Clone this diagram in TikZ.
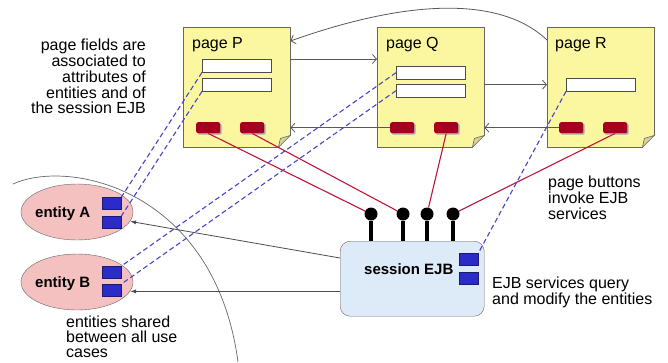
\documentclass[tikz,border=0pt]{standalone}
\usepackage{fontspec}
\setmainfont{Liberation Sans}
\usepackage{tikz}
\usetikzlibrary{calc,positioning,arrows.meta,shapes.geometric,shadows}

\definecolor{pageyellow}{HTML}{FBF7A0}
\definecolor{foldtan}{HTML}{D8D39B}
\definecolor{btnred}{HTML}{A50021}
\definecolor{linkred}{HTML}{C0143C}
\definecolor{entitypink}{HTML}{F4C0C0}
\definecolor{ejbblue}{HTML}{DDEBF8}
\definecolor{attrblue}{HTML}{2B2BC8}
\definecolor{attrline}{HTML}{1A1A70}
\definecolor{dashblue}{HTML}{4646C8}

\tikzset{
  page/.style={draw=black!60, fill=pageyellow, minimum width=107pt, minimum height=120pt, anchor=north west, inner sep=0pt},
  field/.style={draw=black!70, fill=white, minimum width=69pt, minimum height=13pt, anchor=north west, inner sep=0pt},
  button/.style={fill=btnred, rounded corners=2pt, minimum width=24pt, minimum height=11pt, anchor=north west, inner sep=0pt,
    drop shadow={shadow xshift=1.5pt, shadow yshift=-1.5pt, fill=black!35, opacity=1}},
  attr/.style={draw=attrline, fill=attrblue, minimum width=19pt, minimum height=12pt, anchor=north west, inner sep=0pt},
  entity/.style={ellipse, draw=black!60, fill=entitypink, minimum width=112pt, minimum height=56pt, inner sep=0pt},
  plug/.style={circle, fill=black, minimum size=13pt, inner sep=0pt},
  nav/.style={draw=black!65, line width=0.8pt, -{Straight Barb[length=4pt,width=9pt]}},
  query/.style={draw=black!70, line width=0.8pt, -{Latex[length=6pt,width=4pt]}},
  assoc/.style={draw=dashblue, line width=1.1pt, dash pattern=on 5pt off 3pt},
  invoke/.style={draw=linkred, line width=1.1pt},
  note/.style={font=\fontsize{16}{15.75}\selectfont, inner sep=0pt},
  bold/.style={font=\bfseries\fontsize{15}{15}\selectfont, inner sep=0pt, anchor=base west},
}

\begin{document}
\begin{tikzpicture}[x=1pt, y=-1pt]
  %\draw[color=gray,step=10pt, help lines,opacity=0.3] (0,0) grid (668,362); %help grids
  \useasboundingbox (0,0) rectangle (668,362);

  % use case boundary
  \draw[black!60, line width=0.7pt] (13,184) .. controls (70,158) and (215,190) .. (238,362);

  % pages
  \node[page] (P) at (183,27) {};
  \node[page] (Q) at (377,27) {};
  \node[page] (R) at (547,27) {};
  \foreach \p in {P,Q,R} {
    \fill[white] ($(\p.south east)+(-12,0.7)$) -- ($(\p.south east)+(0.7,0.7)$) -- ($(\p.south east)+(0.7,-12)$) -- cycle;
    \filldraw[fill=foldtan, draw=black!60, line width=0.6pt] ($(\p.south east)+(-12,0)$) -- ($(\p.south east)+(0,-12)$) -- ($(\p.south east)+(-10,-9)$) -- cycle;
  }
  \node[note, anchor=base west] (Pname) at (192,48) {page P};
  \node[note, anchor=base west] (Qname) at (386,48) {page Q};
  \node[note, anchor=base west] (Rname) at (555,48) {page R};

  % fields and buttons
  \node[field] (pf1) at (202,59) {};
  \node[field] (pf2) at (202,78) {};
  \node[field] (qf1) at (396,66) {};
  \node[field] (qf2) at (396,84) {};
  \node[field] (rf) at (566,78) {};
  \node[button] (pb1) at (196,122) {};
  \node[button] (pb2) at (240,122) {};
  \node[button] (qb1) at (390,122) {};
  \node[button] (qb2) at (434,122) {};
  \node[button] (rb1) at (559,122) {};
  \node[button] (rb2) at (603,122) {};

  % entities
  \node[entity] (eA) at (77,212) {};
  \node[entity] (eB) at (77,282) {};
  \node[bold] (eAname) at (35,217) {entity A};
  \node[bold] (eBname) at (35,287) {entity B};
  \node[attr] (aA1) at (102,197) {};
  \node[attr] (aA2) at (102,216) {};
  \node[attr] (aB1) at (102,266) {};
  \node[attr] (aB2) at (102,284) {};

  % session bean with its services
  \node[draw=black!60, fill=ejbblue, rounded corners=10pt, minimum width=144pt, minimum height=75pt, anchor=north west] (S) at (340,241) {};
  \node[bold] (Sname) at (364,274) {session EJB};
  \node[attr] (sa1) at (459,253) {};
  \node[attr] (sa2) at (459,272) {};
  \node[plug] (l1) at (371,214) {};
  \node[plug] (l2) at (403,214) {};
  \node[plug] (l3) at (427,214) {};
  \node[plug] (l4) at (453,214) {};
  \foreach \l in {l1,l2,l3,l4}
    \draw[line width=4.5pt] (\l) -- (\l |- S.north);

  % navigation
  \draw[nav] (pf1.north -| P.east) -- (pf1.north -| Q.west);
  \draw[nav] (rf -| Q.east) -- (rf -| R.west);
  \draw[nav] (rb1.west) -- (rb1 -| Q.east);
  \draw[nav] (qb1.west) -- (qb1 -| P.east);
  \draw[nav] ($(R.north west)+(0,13)$) .. controls (505,0) and (420,-5) .. ($(P.north east)+(0,14)$);

  % buttons call services
  \draw[invoke] (pb1.south) -- (l1);
  \draw[invoke] (pb2.south) -- (l2);
  \draw[invoke] (qb2.south) -- (l3);
  \draw[invoke] (rb2.south) -- (l4);

  % fields bound to attributes
  \draw[assoc] (pf1.south west) -- (aA1.north east);
  \draw[assoc] (pf2.south west) -- (aA2.north east);
  \draw[assoc] (qf1.west) -- (aB1.north east);
  \draw[assoc] (qf2.west) -- (aB2.north east);
  \draw[assoc] (rf.south west) -- (sa1.north east);

  % services use entities
  \draw[query] ([yshift=-17pt]S.north west) -- (eA.-10);
  \draw[query] (eB.-10 -| S.west) -- (eB.-10);

  % notes
  \node[note, align=right, anchor=north east] (fieldnote) at (146,39) {page fields are\\associated to\\attributes of\\entities and of\\the session EJB};
  \node[note, align=left, anchor=north west] (btnnote) at (548,176) {page buttons\\invoke EJB\\services};
  \node[note, align=left, anchor=north west] (querynote) at (492,277) {EJB services query\\and modify the entities};
  \node[note, align=left, anchor=north west, font=\fontsize{16}{15}\selectfont] (sharednote) at (66,316) {entities shared\\between all use\\cases};
\end{tikzpicture}
\end{document}
